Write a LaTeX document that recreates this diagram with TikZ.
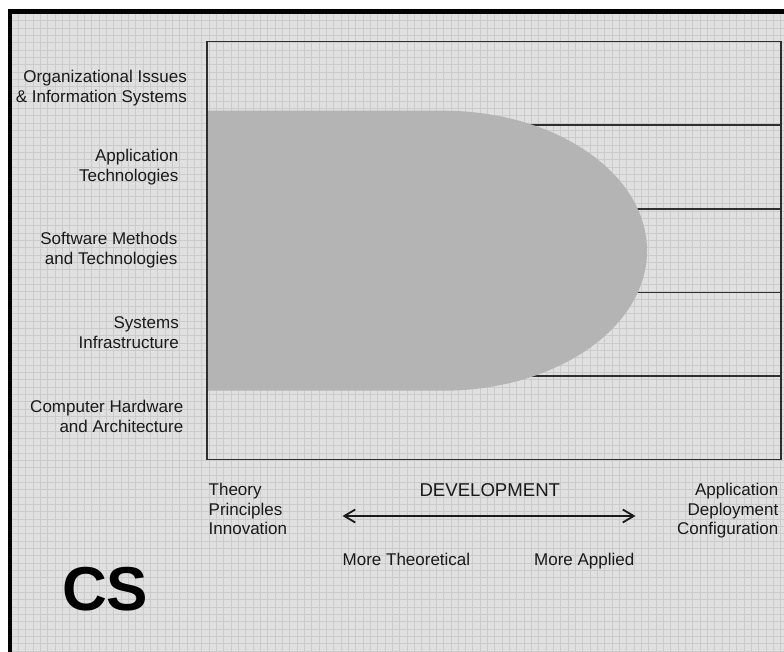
\documentclass[tikz,border=0pt]{standalone}
\usepackage{fontspec}
\setmainfont{Liberation Sans}
\usetikzlibrary{arrows.meta}
\definecolor{bgcol}{HTML}{E0E0E0}
\definecolor{gridcol}{HTML}{CBCBCB}
\definecolor{blobcol}{HTML}{B4B4B4}
\definecolor{inkcol}{HTML}{1A1A1A}
\definecolor{framecol}{HTML}{2E2E2E}
\tikzset{
  lbl/.style={inner sep=0pt, text=inkcol, font=\fontsize{17}{19.7}\selectfont},
  rowline/.style={draw=framecol, line width=1.6pt},
  gridline/.style={draw=gridcol, line width=0.6pt},
  devarrow/.style={draw=inkcol, line width=1.8pt,
    {Straight Barb[length=11pt,width=13pt,line width=1.8pt]}-{Straight Barb[length=11pt,width=13pt,line width=1.8pt]}},
}
\begin{document}
\begin{tikzpicture}[x=1pt,y=-1pt]
\useasboundingbox (0,0) rectangle (784,652);
\fill[white] (0,0) rectangle (784,652);
\fill[bgcol] (10,11) rectangle (784,652);
% grid
\foreach \gx in {18.33,25.66,...,784} \draw[gridline] (\gx,14) -- (\gx,652);
\foreach \gy in {20.5,27.83,...,652} \draw[gridline] (12,\gy) -- (784,\gy);
% outer black border (top and left)
\draw[black, line width=5pt] (8,11.5) -- (784,11.5);
\draw[black, line width=4pt] (10.2,9) -- (10.2,652);
% row lines
\coordinate (fl1) at (206.7,125); \coordinate (fr1) at (781,125);
\coordinate (fl2) at (206.7,208.8); \coordinate (fr2) at (781,208.8);
\coordinate (fl3) at (206.7,292.3); \coordinate (fr3) at (781,292.3);
\coordinate (fl4) at (206.7,376); \coordinate (fr4) at (781,376);
\draw[rowline] (fl1) -- (fr1);
\draw[rowline] (fl2) -- (fr2);
\draw[rowline] (fl3) -- (fr3);
\draw[rowline] (fl4) -- (fr4);
% gray blob
\fill[blobcol] (206.7,110.7) -- (443,110.7) arc[start angle=-90, end angle=90, x radius=204, y radius=140] -- (206.7,390.7) -- cycle;
% frame
\draw[rowline] (206.7,41.7) rectangle (781,459.3);
% left labels (anchor = baseline of last line)
\node[lbl, align=right, anchor=base east] (org) at (187,102.2) {Organizational Issues\\\& Information Systems};
\node[lbl, align=right, anchor=base east] (app) at (178.5,181.2) {Application\\Technologies};
\node[lbl, align=right, anchor=base east] (soft) at (177.5,264.7) {Software Methods\\and Technologies};
\node[lbl, align=right, anchor=base east] (sys) at (179,348) {Systems\\Infrastructure};
\node[lbl, align=right, anchor=base east] (hw) at (183.5,432.2) {Computer Hardware\\and Architecture};
% bottom labels
\node[lbl, align=left, anchor=base west] (theory) at (208.5,534.9) {Theory\\Principles\\Innovation};
\node[lbl, align=right, anchor=base east] (applic) at (778.5,534.9) {Application\\Deployment\\Configuration};
\node[lbl, anchor=base, font=\fontsize{18.6}{20}\selectfont] (dev) at (489.8,496) {DEVELOPMENT};
\node[lbl, anchor=base west] (theo) at (342.5,565.5) {More Theoretical};
\node[lbl, anchor=base east] (appl) at (634.5,565.5) {More Applied};
\coordinate (al) at (342.5,516);
\coordinate (ar) at (635.5,516);
\draw[devarrow] (al) -- (ar);
\node[inner sep=0pt, anchor=base west, text=black, font=\fontsize{62}{64}\selectfont\bfseries] (cs) at (62,610) {CS};
\end{tikzpicture}
\end{document}
